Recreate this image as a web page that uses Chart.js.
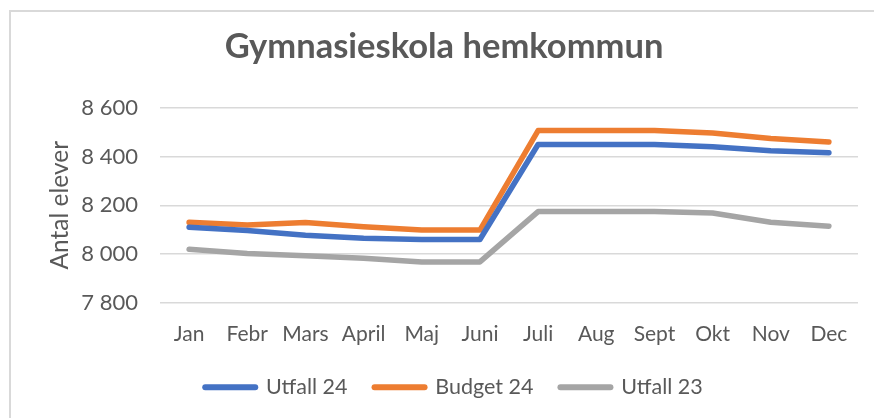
<!DOCTYPE html>
<html>
<head>
<meta charset="utf-8">
<script src="https://cdn.jsdelivr.net/npm/chart.js@4/dist/chart.umd.min.js"></script>
<style>
  html, body { margin: 0; padding: 0; background: #ffffff; }
  #wrap { position: relative; width: 874px; height: 418px; }
</style>
</head>
<body>
<div id="wrap"><canvas id="c" width="874" height="418"></canvas></div>
<script>
const categories = ["Jan", "Febr", "Mars", "April", "Maj", "Juni", "Juli", "Aug", "Sept", "Okt", "Nov", "Dec"];
const utfall24 = [8110, 8096, 8077, 8064, 8059, 8059, 8450, 8450, 8450, 8441, 8424, 8416];
const budget24 = [8130, 8119, 8129, 8112, 8098, 8098, 8507, 8507, 8507, 8497, 8475, 8460];
const utfall23 = [8019, 8002, 7992, 7982, 7967, 7967, 8174, 8174, 8174, 8168, 8130, 8114];
const seriesNames = ["Utfall 24", "Budget 24", "Utfall 23"];
const chartTitle = "Gymnasieskola hemkommun";
const yAxisTitle = "Antal elever";
const yMin = 7800, yMax = 8600, yStep = 200;

const TEXT = "#595959";
const FONT = "Lato, 'Liberation Sans', sans-serif";

function fmt(v) { return String(v).replace(/\B(?=(\d{3})+(?!\d))/g, " "); }

const framePlugin = {
  id: "frame",
  beforeDraw(chart) {
    const ctx = chart.ctx;
    ctx.save();
    ctx.fillStyle = "#ffffff";
    ctx.fillRect(0, 0, chart.width, chart.height);
    ctx.strokeStyle = "#d9d9d9";
    ctx.lineWidth = 2;
    ctx.strokeRect(10, 11, 1000, 1000);
    ctx.restore();
  }
};

const legendShift = {
  id: "legendShift",
  afterLayout(chart) {
    if (chart.legend) { chart.legend.left += 10; chart.legend.right += 10; }
  }
};

function ds(label, data, color) {
  return {
    label, data,
    borderColor: color, backgroundColor: color,
    borderWidth: 5.5, borderCapStyle: "round", borderJoinStyle: "round",
    pointRadius: 0, pointHoverRadius: 0, tension: 0, fill: false
  };
}

new Chart(document.getElementById("c"), {
  type: "line",
  data: {
    labels: categories,
    datasets: [
      ds(seriesNames[0], utfall24, "#4472C4"),
      ds(seriesNames[1], budget24, "#ED7D31"),
      ds(seriesNames[2], utfall23, "#A5A5A5")
    ]
  },
  plugins: [framePlugin, legendShift],
  options: {
    responsive: false,
    animation: false,
    devicePixelRatio: 1,
    layout: { padding: { left: 30, right: 16, top: 0, bottom: 10 } },
    plugins: {
      tooltip: { enabled: false },
      title: {
        display: true, text: chartTitle, color: TEXT,
        font: { family: FONT, size: 34.5, weight: "bold" },
        padding: { top: 26, bottom: 40.6 }
      },
      legend: {
        position: "bottom",
        labels: {
          color: TEXT,
          font: { family: FONT, size: 21.5 },
          usePointStyle: true,
          pointStyle: "line",
          pointStyleWidth: 50,
          boxHeight: 22,
          padding: 27,
          generateLabels(chart) {
            return chart.data.datasets.map((d, i) => ({
              text: d.label, fillStyle: d.borderColor, strokeStyle: d.borderColor,
              lineWidth: 6, lineCap: "round", pointStyle: "line", hidden: false,
              datasetIndex: i, fontColor: TEXT
            }));
          }
        }
      }
    },
    scales: {
      x: {
        offset: true,
        grid: { display: false, drawTicks: false },
        border: { display: false },
        ticks: { color: TEXT, font: { family: FONT, size: 21 }, padding: 19.2, maxRotation: 0, autoSkip: false },
        afterFit(scale) { scale.height = 47; }
      },
      y: {
        min: yMin, max: yMax,
        grid: { color: "#d9d9d9", lineWidth: 1.5, drawTicks: false },
        border: { display: false },
        ticks: { stepSize: yStep, color: TEXT, font: { family: FONT, size: 22 }, padding: 22, callback: v => fmt(v) },
        title: { display: true, text: yAxisTitle, color: TEXT, font: { family: FONT, size: 24.5 }, padding: { top: 15.3, bottom: 0 } },
        afterFit(scale) { scale.width = 130; }
      }
    }
  }
});
</script>
</body>
</html>
